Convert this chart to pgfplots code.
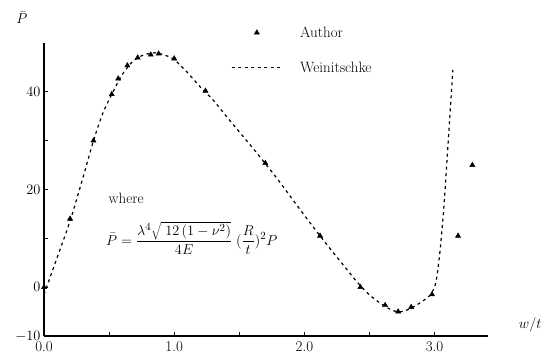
\documentclass[border=0pt]{standalone}
\usepackage{pgfplots}
\pgfplotsset{compat=1.18}

% Author's test results
\pgfplotstableread{
x     y
0.00  0.0
0.20  14.0
0.38  30.0
0.52  39.5
0.57  42.7
0.64  45.4
0.72  47.0
0.82  47.6
0.88  47.8
1.00  46.8
1.24  40.2
1.70  25.4
2.12  10.5
2.43  0.0
2.62  -3.7
2.72  -5.0
2.82  -4.1
2.98  -1.5
3.18  10.5
3.29  25.0
}\authordata

% Weinitschke's solution
\pgfplotstableread{
x     y
0.00  -1.5
0.10  6.0
0.20  13.5
0.30  22.5
0.38  30.0
0.45  35.5
0.52  39.5
0.60  43.5
0.68  46.2
0.76  47.5
0.85  48.0
0.93  47.5
1.00  46.6
1.10  44.0
1.20  41.0
1.30  38.3
1.40  35.0
1.50  31.8
1.60  28.6
1.70  25.3
1.80  21.9
1.90  18.3
2.00  14.7
2.10  11.2
2.20  7.8
2.30  4.5
2.40  1.2
2.50  -1.6
2.60  -3.6
2.68  -4.8
2.75  -5.0
2.82  -4.3
2.90  -3.0
2.97  -1.5
3.01  1.0
3.04  7.0
3.07  16.0
3.10  28.0
3.14  44.5
}\weindata

\pgfplotsset{
  lineleg/.style={legend image code/.code={\draw[##1, line width=0.8bp] (0bp,0bp) -- (50bp,0bp);}},
  markleg/.style={legend image code/.code={\draw[##1, mark repeat=2, mark phase=2] plot coordinates {(0bp,0bp) (25bp,0bp) (50bp,0bp)};}},
}

\begin{document}
\begin{tikzpicture}
\path[use as bounding box] (-44bp,-24bp) rectangle (500bp,336bp);
\begin{axis}[
  at={(0,0)}, anchor=south west,
  scale only axis, width=444bp, height=293bp,
  xmin=0, xmax=3.41, ymin=-10, ymax=50,
  clip=false,
  axis lines*=left,
  axis line style={line width=1.3bp},
  xtick={0,1,2,3}, minor xtick={0.5,1.5,2.5},
  xticklabels={0.0,1.0,2.0,3.0},
  ytick={-10,0,20,40}, minor ytick={10,30},
  tick align=inside,
  major tick length=4bp, minor tick length=4bp,
  tick style={black, line width=0.9bp},
  tick label style={font=\fontsize{15}{17}\selectfont},
  xticklabel style={yshift=-2bp},
  xlabel={$w/t$},
  ylabel={$\bar{P}$},
  every axis x label/.style={at={(axis description cs:1.095,0.038)}, anchor=center, font=\fontsize{15}{17}\selectfont},
  every axis y label/.style={at={(axis description cs:-0.05,1.085)}, anchor=center, font=\fontsize{15}{17}\selectfont},
  legend style={at={(axis description cs:0.415,1.07)}, anchor=north west,
    draw=none, fill=none, row sep=19bp,
    /tikz/every odd column/.append style={column sep=16bp},
    font=\fontsize{15}{17}\selectfont},
  legend cell align=left,
  reverse legend,
]
\addplot[black, line width=1.2bp, dash pattern=on 3bp off 3.5bp, smooth, tension=0.4, lineleg]
  table[x=x, y=y] {\weindata};
\addlegendentry{Weinitschke}
\addplot[only marks, mark=triangle*, mark size=3bp, black, mark options={fill=black}, markleg]
  table[x=x, y=y] {\authordata};
\addlegendentry{Author}

\node[anchor=west, font=\fontsize{15}{17}\selectfont] at (axis cs:0.47,18.1) {where};
\node[anchor=west, font=\fontsize{15}{17}\selectfont] at (axis cs:0.45,10.0)
  {$\displaystyle \bar{P}=\frac{\lambda^{4}\sqrt{\;12\,(1-\nu^{2})}}{4E}\;(\frac{R}{t})^{2}P$};
\end{axis}
\end{tikzpicture}
\end{document}
